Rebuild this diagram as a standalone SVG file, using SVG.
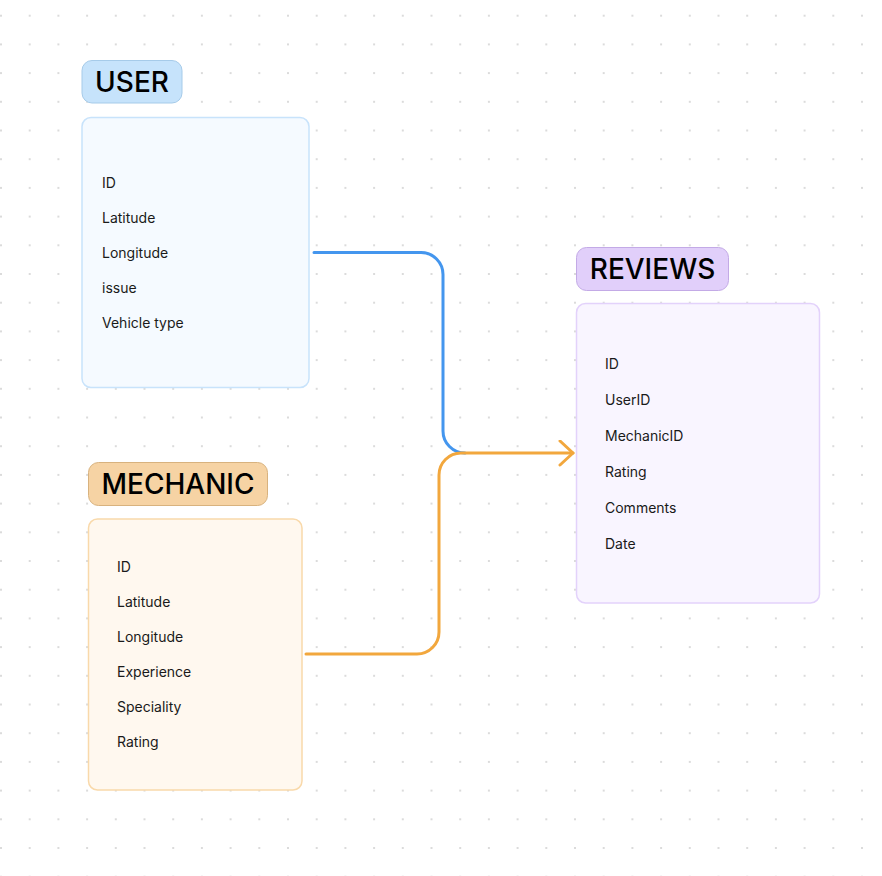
<svg xmlns="http://www.w3.org/2000/svg" width="882" height="876" viewBox="0 0 882 876">
<defs>
<pattern id="dots" x="1" y="15.7" width="28.7" height="28.7" patternUnits="userSpaceOnUse">
<circle cx="0" cy="0" r="1" fill="#cfcfcf"/>
<circle cx="28.7" cy="0" r="1" fill="#cfcfcf"/>
<circle cx="0" cy="28.7" r="1" fill="#cfcfcf"/>
<circle cx="28.7" cy="28.7" r="1" fill="#cfcfcf"/>
</pattern>
<marker id="arrO" viewBox="0 0 20 30" refX="15" refY="13" markerWidth="20" markerHeight="30" markerUnits="userSpaceOnUse" orient="auto">
<path d="M2 1 L15 13 L2 25" fill="none" stroke="#f2a73d" stroke-width="3" stroke-linecap="round" stroke-linejoin="round"/>
</marker>
</defs>
<style>
.title{font-family:Inter,"Liberation Sans",sans-serif;font-size:28px;font-weight:500;fill:#000}
.field{font-family:Inter,"Liberation Sans",sans-serif;font-size:14px;fill:#1a1a1a}
.conn{fill:none;stroke-width:3;stroke-linecap:round}
</style>
<rect width="882" height="876" fill="#ffffff"/>
<rect width="882" height="876" fill="url(#dots)"/>
<g id="connectors">
<path class="conn" stroke="#4496ee" d="M314 252.5 H421 A22 22 0 0 1 443 274.5 V431 A22 22 0 0 0 465 453"/>
<path class="conn" stroke="#f2a73d" d="M306 654 H417 A22 22 0 0 0 439 632 V475 A22 22 0 0 1 461 453 H573" marker-end="url(#arrO)"/>
</g>
<g id="user">
<rect x="82" y="60.5" width="100" height="42.5" rx="10" fill="#c6e3fb" stroke="#a6cbe9" stroke-width="1"/>
<text class="title" x="132" y="92" text-anchor="middle">USER</text>
<rect x="82" y="117.5" width="227" height="270" rx="9" fill="#f5faff" stroke="#c8e3fb" stroke-width="1.5"/>
<text class="field" x="102" y="188">ID</text>
<text class="field" x="102" y="223">Latitude</text>
<text class="field" x="102" y="258">Longitude</text>
<text class="field" x="102" y="293">issue</text>
<text class="field" x="102" y="328">Vehicle type</text>
</g>
<g id="mechanic">
<rect x="88.5" y="462.5" width="179" height="43" rx="10" fill="#f6d3a4" stroke="#d8b27e" stroke-width="1"/>
<text class="title" x="178" y="494" text-anchor="middle">MECHANIC</text>
<rect x="88.5" y="519" width="213.5" height="271" rx="9" fill="#fff8ef" stroke="#f9d9aa" stroke-width="1.5"/>
<text class="field" x="117" y="572">ID</text>
<text class="field" x="117" y="607">Latitude</text>
<text class="field" x="117" y="642">Longitude</text>
<text class="field" x="117" y="677">Experience</text>
<text class="field" x="117" y="712">Speciality</text>
<text class="field" x="117" y="747">Rating</text>
</g>
<g id="reviews">
<rect x="576.5" y="247.5" width="152" height="43" rx="10" fill="#e1cffa" stroke="#c3aae6" stroke-width="1"/>
<text class="title" x="652.5" y="279" text-anchor="middle">REVIEWS</text>
<rect x="576.5" y="303.5" width="243" height="299.5" rx="9" fill="#f9f5ff" stroke="#e3d2fb" stroke-width="1.5"/>
<text class="field" x="605" y="369">ID</text>
<text class="field" x="605" y="405">UserID</text>
<text class="field" x="605" y="441">MechanicID</text>
<text class="field" x="605" y="477">Rating</text>
<text class="field" x="605" y="513">Comments</text>
<text class="field" x="605" y="549">Date</text>
</g>
</svg>
